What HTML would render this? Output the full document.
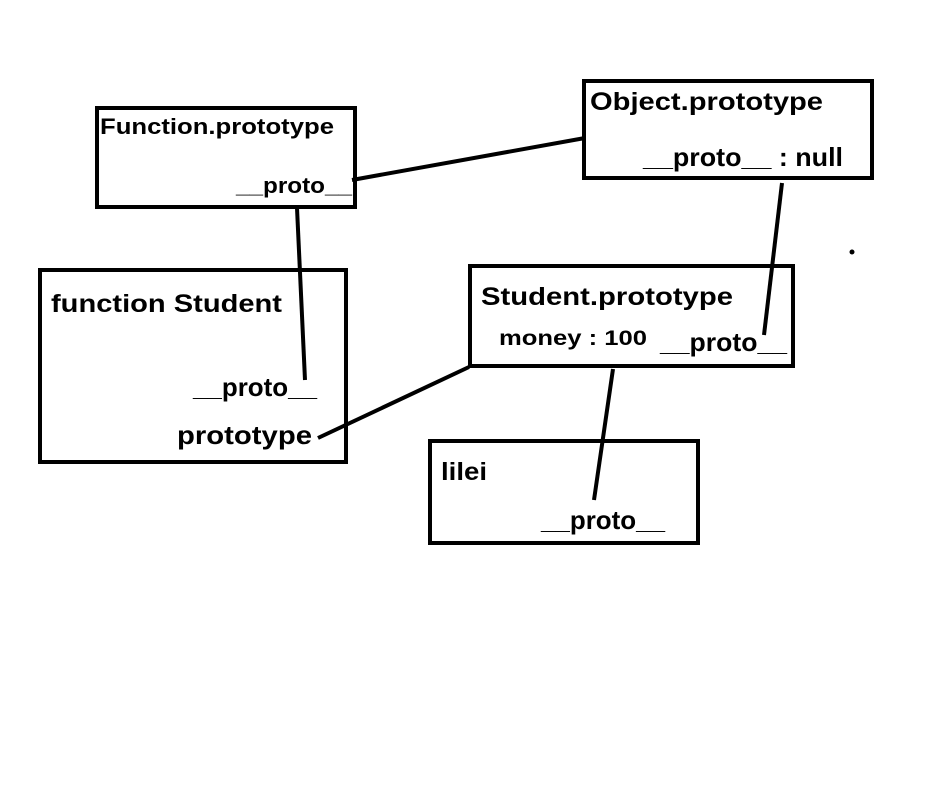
<!DOCTYPE html>
<html><head><meta charset="utf-8"><style>
html,body{margin:0;padding:0;background:#fff;}
svg{display:block;}
text{font-family:"Liberation Sans",sans-serif;font-weight:bold;fill:#000;}
</style></head><body>
<svg width="947" height="788" viewBox="0 0 947 788" xmlns="http://www.w3.org/2000/svg">
<g fill="none" stroke="#000" stroke-width="4">
<rect x="97" y="108" width="258" height="99"/>
<rect x="584" y="81" width="288" height="97"/>
<rect x="40" y="270" width="306" height="192"/>
<rect x="470" y="266" width="323" height="100"/>
<rect x="430" y="441" width="268" height="102"/>
<line x1="352" y1="180" x2="585" y2="138"/>
<line x1="297" y1="208" x2="305" y2="380"/>
<line x1="318" y1="438" x2="469" y2="367"/>
<line x1="782" y1="183" x2="764" y2="335"/>
<line x1="613" y1="369" x2="594" y2="500"/>
</g>
<circle cx="852" cy="252" r="2.5" fill="#000"/>
<text x="100" y="134" font-size="22" textLength="234" lengthAdjust="spacingAndGlyphs">Function.prototype</text>
<text x="236" y="193" font-size="22" textLength="116" lengthAdjust="spacingAndGlyphs">__proto__</text>
<text x="590" y="110" font-size="25" textLength="233" lengthAdjust="spacingAndGlyphs">Object.prototype</text>
<text x="643" y="166" font-size="26" textLength="200" lengthAdjust="spacingAndGlyphs">__proto__ : null</text>
<text x="51" y="312" font-size="25" textLength="231" lengthAdjust="spacingAndGlyphs">function Student</text>
<text x="193" y="396" font-size="26" textLength="124" lengthAdjust="spacingAndGlyphs">__proto__</text>
<text x="177" y="444" font-size="26" textLength="135" lengthAdjust="spacingAndGlyphs">prototype</text>
<text x="481" y="305" font-size="25" textLength="252" lengthAdjust="spacingAndGlyphs">Student.prototype</text>
<text x="499" y="345" font-size="21" textLength="148" lengthAdjust="spacingAndGlyphs">money : 100</text>
<text x="660" y="351" font-size="26" textLength="127" lengthAdjust="spacingAndGlyphs">__proto__</text>
<text x="441" y="480" font-size="25" textLength="46" lengthAdjust="spacingAndGlyphs">lilei</text>
<text x="541" y="529" font-size="26" textLength="124" lengthAdjust="spacingAndGlyphs">__proto__</text>
</svg>
</body></html>
